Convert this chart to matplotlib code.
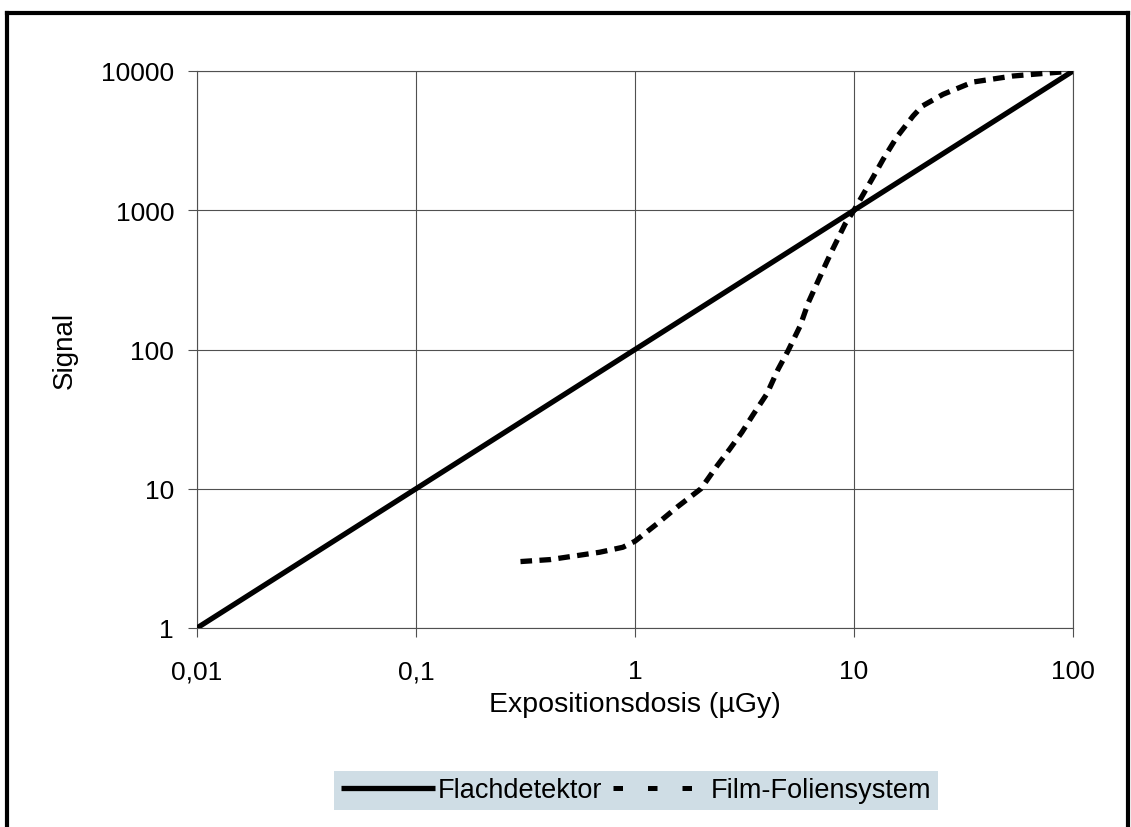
import matplotlib
matplotlib.use("Agg")
import matplotlib.pyplot as plt
from matplotlib.lines import Line2D
from matplotlib.ticker import FixedLocator, FixedFormatter, NullLocator

plt.rcParams['font.family'] = ['Liberation Sans', 'DejaVu Sans']

# ---- data ----
flach_x = [0.01, 0.1, 1, 10, 100]
flach_y = [1, 10, 100, 1000, 10000]

film_x = [0.3, 0.41, 0.69, 0.88, 1.0, 1.26, 1.56, 2.0, 2.37, 2.71, 3.08, 3.46,
          4.0, 4.5, 5.0, 5.67, 6.2, 6.85, 7.5, 8.0, 9.1, 10, 12.1, 13.6, 15.7,
          18.6, 20.5, 25.5, 34.9, 53, 100]
film_y = [3.0, 3.1, 3.5, 3.8, 4.2, 5.6, 7.4, 10, 14.6, 19.3, 25.5, 34,
          48, 72, 98, 147, 219, 310, 424, 526, 795, 1000, 1680, 2330, 3360,
          4750, 5600, 6800, 8330, 9200, 10000]

x_ticks = [0.01, 0.1, 1, 10, 100]
x_ticklabels = ["0,01", "0,1", "1", "10", "100"]
y_ticks = [1, 10, 100, 1000, 10000]
y_ticklabels = ["1", "10", "100", "1000", "10000"]

series_names = ["Flachdetektor", "Film-Foliensystem"]
x_label = "Expositionsdosis (µGy)"
y_label = "Signal"

# ---- figure ----
W, H = 1131, 828
fig = plt.figure(figsize=(W / 100, H / 100), dpi=100)
ax = fig.add_axes([197 / W, 1 - 629 / H, (1073 - 197) / W, (629 - 72) / H])

ax.set_xscale('log')
ax.set_yscale('log')
ax.set_xlim(0.01, 100)
ax.set_ylim(1, 10000)

ax.plot(flach_x, flach_y, color='black', lw=3.8, solid_capstyle='butt', zorder=3)
ax.plot(film_x, film_y, color='black', lw=3.8, dashes=(2.2, 1.4),
        dash_capstyle='butt', zorder=3)

ax.xaxis.set_major_locator(FixedLocator(x_ticks))
ax.xaxis.set_major_formatter(FixedFormatter(x_ticklabels))
ax.yaxis.set_major_locator(FixedLocator(y_ticks))
ax.yaxis.set_major_formatter(FixedFormatter(y_ticklabels))
ax.xaxis.set_minor_locator(NullLocator())
ax.yaxis.set_minor_locator(NullLocator())

ax.grid(True, color='#505050', lw=0.8)
for s in ax.spines.values():
    s.set_color('#505050')
    s.set_linewidth(0.8)
ax.tick_params(axis='both', direction='out', length=6.5, width=0.8, color='#505050',
               labelsize=19)
ax.tick_params(axis='x', pad=16)
ax.tick_params(axis='y', pad=10)
ax.tick_params(top=False, right=False)

fig.text(65 / W, 1 - 350 / H, y_label, rotation=90, ha='center', va='center', fontsize=20)
fig.text(635 / W, 1 - 705 / H, x_label, ha='center', va='center', fontsize=20.5)

# legend
h1 = Line2D([], [], color='black', lw=3.8, solid_capstyle='butt')
h2 = Line2D([], [], color='black', lw=3.6, dashes=(1.9, 5.0), dash_capstyle='butt')
leg = fig.legend([h1, h2], series_names, loc='center', ncol=2,
                 bbox_to_anchor=(636 / W, 1 - 791.5 / H), fontsize=19.5,
                 frameon=True, fancybox=False, handlelength=3.5,
                 handletextpad=0.1, columnspacing=0.4, borderpad=0.25,
                 borderaxespad=0)
leg.get_frame().set_facecolor('#CFDDE5')
leg.get_frame().set_edgecolor('none')
leg.get_frame().set_alpha(1)

# outer border
bw = 3.0
fig.add_artist(Line2D([7 / W, 7 / W], [0, 1 - 14 / H], color='black', lw=bw,
                      transform=fig.transFigure, solid_capstyle='projecting'))
fig.add_artist(Line2D([7 / W, 1128 / W], [1 - 14 / H, 1 - 14 / H], color='black', lw=bw,
                      transform=fig.transFigure, solid_capstyle='projecting'))
fig.add_artist(Line2D([1128 / W, 1128 / W], [0, 1 - 14 / H], color='black', lw=bw,
                      transform=fig.transFigure, solid_capstyle='projecting'))

fig.savefig('out.png', dpi=100)
